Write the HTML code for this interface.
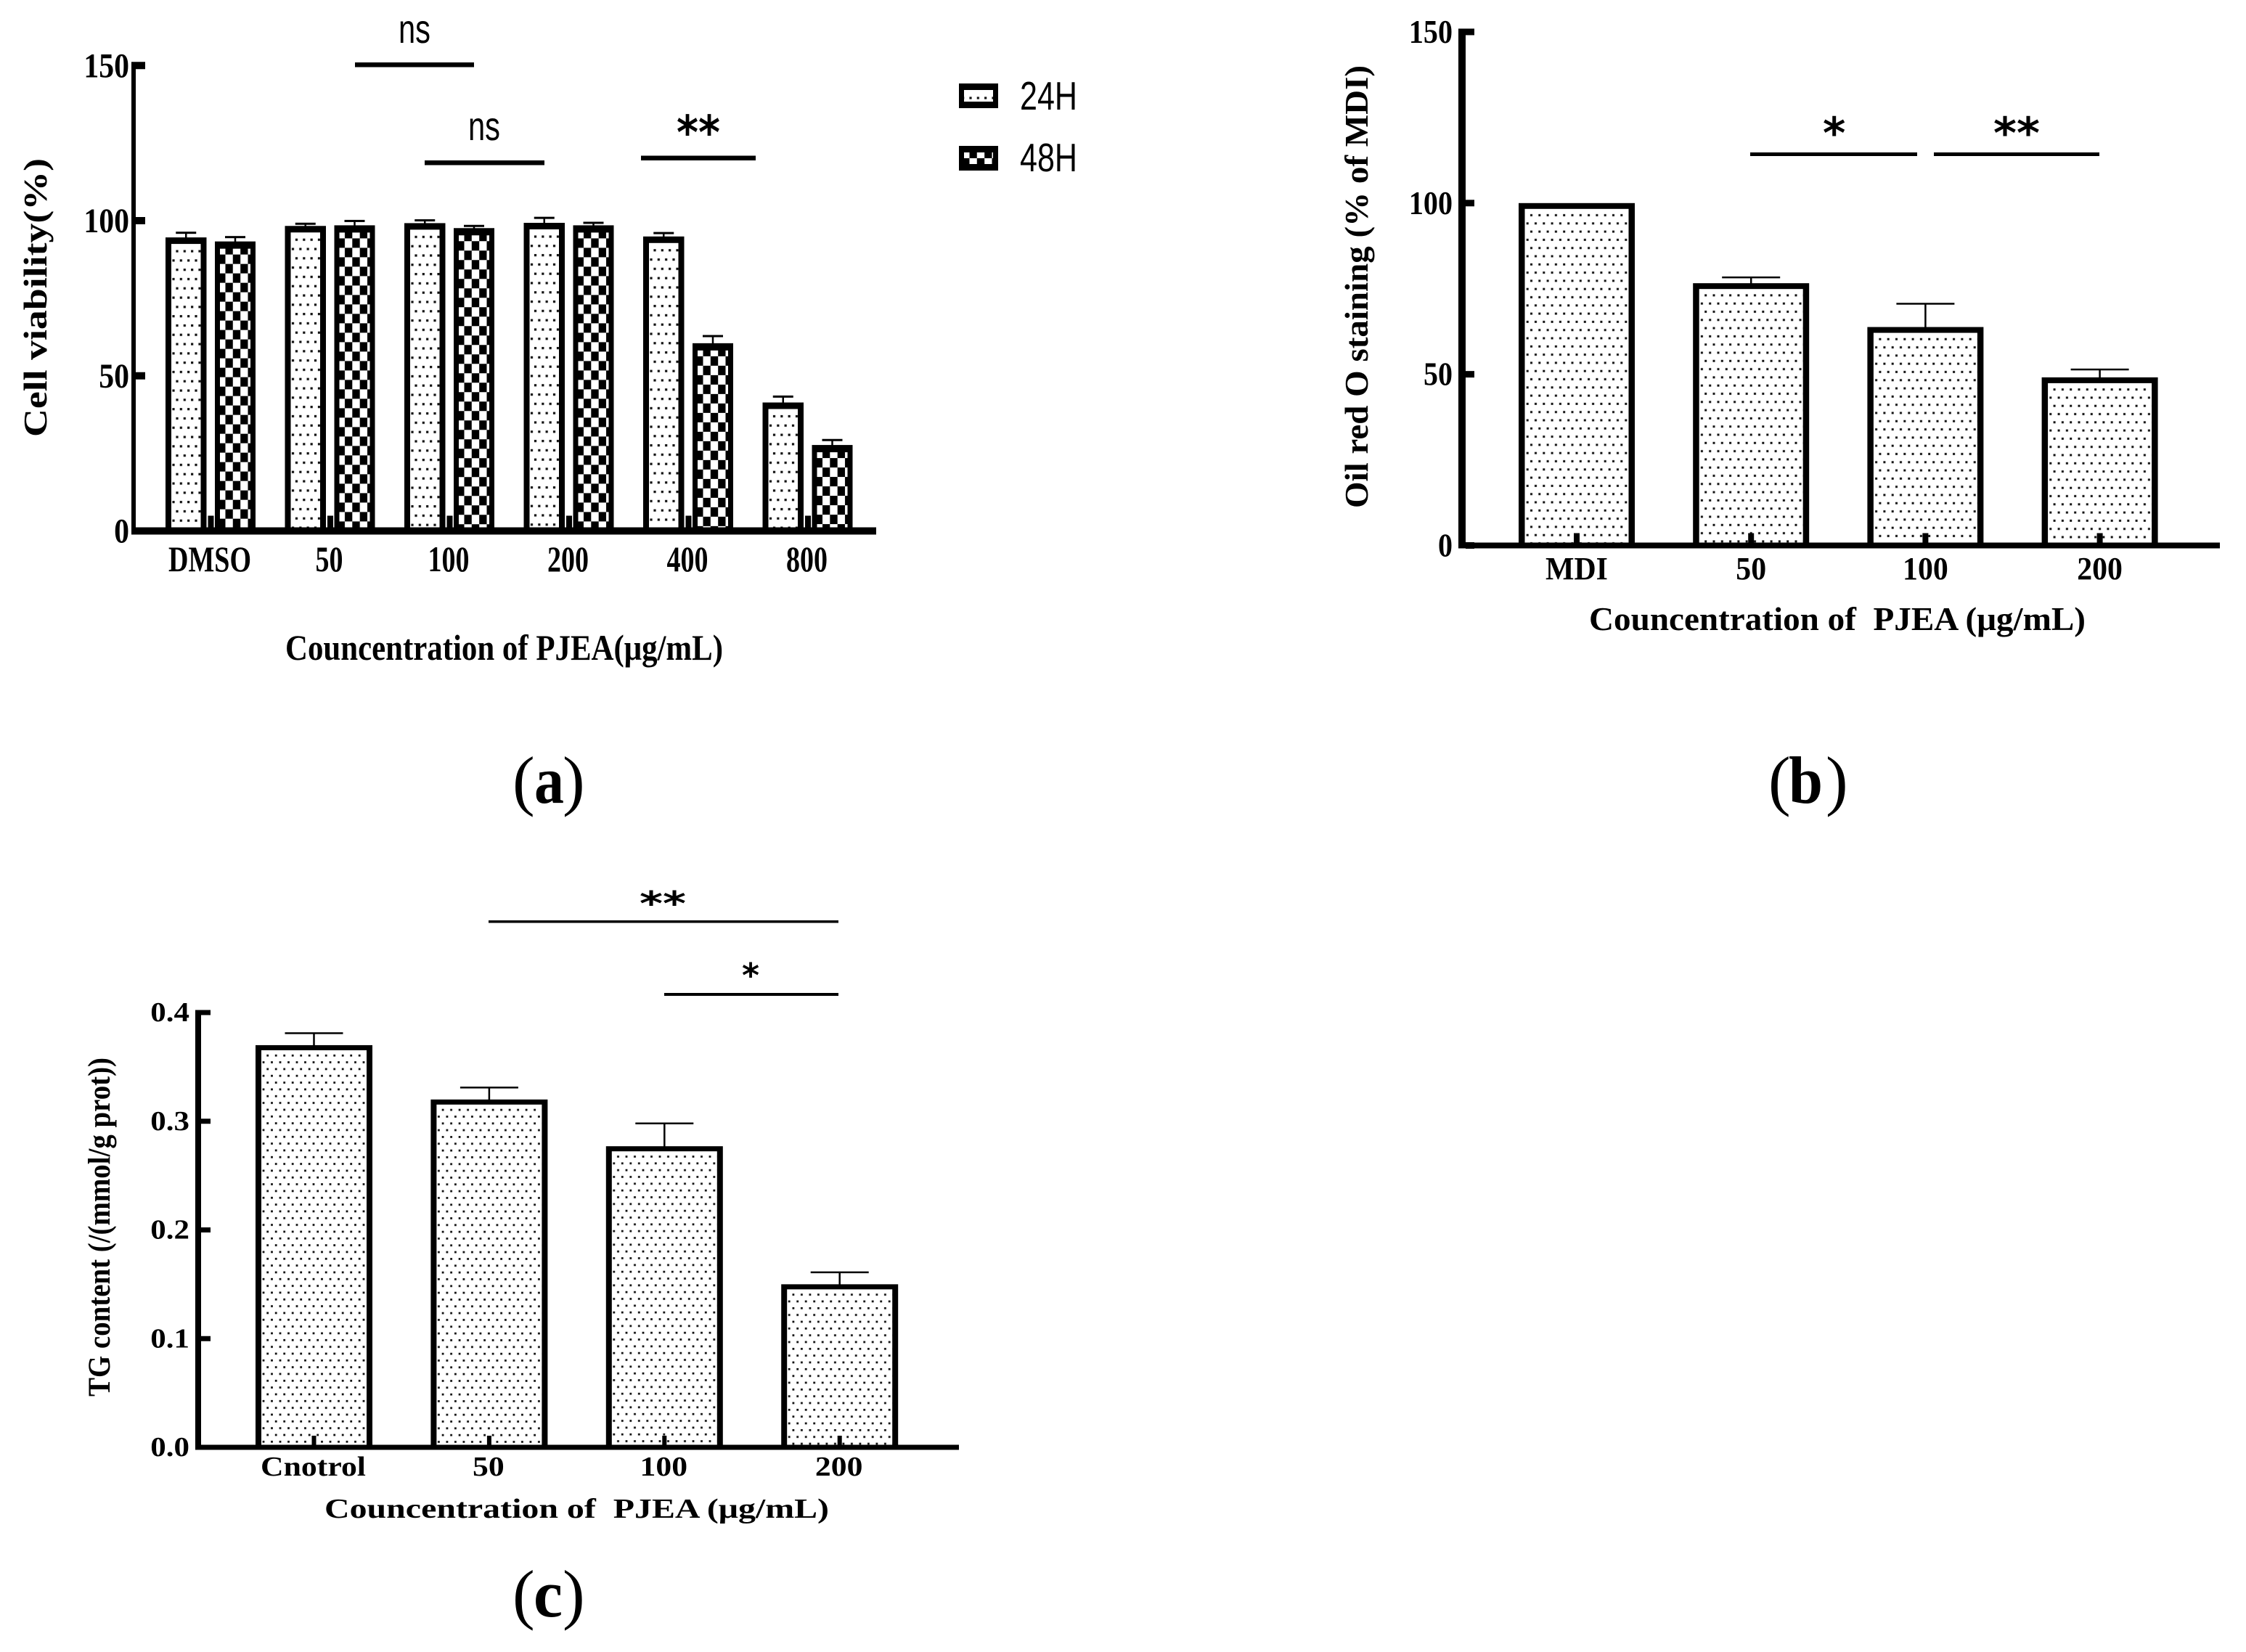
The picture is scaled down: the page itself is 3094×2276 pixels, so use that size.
<!DOCTYPE html>
<html>
<head>
<meta charset="utf-8">
<title>PJEA bar charts</title>
<style>
html,body{margin:0;padding:0;background:#fff;width:3094px;height:2276px;overflow:hidden}
svg{display:block}
text{fill:#000;font-family:"Liberation Serif",serif}
.bold{font-weight:700}
.sans{font-family:"Liberation Sans",sans-serif}
.star{font-family:"DejaVu Sans",sans-serif;font-weight:700}
</style>
</head>
<body>
<svg id="figure" xmlns="http://www.w3.org/2000/svg" width="3094" height="2276" viewBox="0 0 3094 2276">
<defs id="defs"></defs>
<rect x="0" y="0" width="3094" height="2276" fill="#fff"/>
<g id="panel-a"></g>
<g id="panel-b"></g>
<g id="panel-c"></g>

<!-- panel a annotations -->
<text class="bold" x="0" y="0" font-size="45" transform="translate(64 602) rotate(-90)" textLength="384" lengthAdjust="spacingAndGlyphs">Cell viability(%)</text>
<text class="bold" x="393" y="909" font-size="50" textLength="603" lengthAdjust="spacingAndGlyphs">Councentration of PJEA(μg/mL)</text>
<rect x="489" y="86" width="164" height="6.5" fill="#000"/>
<text class="sans" x="549" y="59" font-size="56" textLength="44" lengthAdjust="spacingAndGlyphs">ns</text>
<rect x="585" y="221" width="165" height="6.5" fill="#000"/>
<text class="sans" x="645" y="193" font-size="56" textLength="44" lengthAdjust="spacingAndGlyphs">ns</text>
<rect x="883" y="214.5" width="158" height="6.5" fill="#000"/>
<text class="star" x="932" y="205" font-size="64" textLength="60" lengthAdjust="spacingAndGlyphs">**</text>

<!-- legend -->
<g>
  <g>
    <rect x="1321" y="115" width="54" height="34" fill="#000"/>
    <rect id="swatch24" x="1328" y="124" width="40" height="16"/>
    <text class="sans" x="1405" y="151" font-size="55" textLength="79" lengthAdjust="spacingAndGlyphs">24H</text>
  </g>
  <g>
    <rect x="1321" y="201" width="54" height="34" fill="#000"/>
    <rect id="swatch48" x="1328" y="210" width="40" height="16"/>
    <text class="sans" x="1405" y="236" font-size="55" textLength="79" lengthAdjust="spacingAndGlyphs">48H</text>
  </g>
</g>

<!-- panel b annotations -->
<text class="bold" x="0" y="0" font-size="46" transform="translate(1884 700) rotate(-90)" textLength="610" lengthAdjust="spacingAndGlyphs">Oil red O staining (% of MDI)</text>
<text class="bold" x="2189" y="868" font-size="46" textLength="684" lengthAdjust="spacingAndGlyphs" xml:space="preserve">Councentration of  PJEA (μg/mL)</text>
<rect x="2411" y="210" width="230" height="5" fill="#000"/>
<text class="star" x="2511" y="204" font-size="60">*</text>
<rect x="2664" y="210" width="228" height="5" fill="#000"/>
<text class="star" x="2746" y="204" font-size="60" textLength="64" lengthAdjust="spacingAndGlyphs">**</text>

<!-- panel c annotations -->
<text class="bold" x="0" y="0" font-size="43" transform="translate(151 1924) rotate(-90)" textLength="467" lengthAdjust="spacingAndGlyphs">TG content (/(mmol/g prot))</text>
<text class="bold" x="447" y="2091" font-size="38" textLength="695" lengthAdjust="spacingAndGlyphs" xml:space="preserve">Councentration of  PJEA (μg/mL)</text>
<rect x="673" y="1268" width="482" height="3.5" fill="#000"/>
<text class="star" x="881" y="1261" font-size="46" textLength="64" lengthAdjust="spacingAndGlyphs">**</text>
<rect x="915" y="1368" width="240" height="4" fill="#000"/>
<text class="star" x="1022" y="1360" font-size="46">*</text>

<!-- panel letters -->
<g>
  <text x="706" y="1106" font-size="92">(</text>
  <text class="bold" x="736" y="1106" font-size="92" textLength="41" lengthAdjust="spacingAndGlyphs">a</text>
  <text x="775" y="1106" font-size="92">)</text>
</g>
<g>
  <text x="2436" y="1106" font-size="92">(</text>
  <text class="bold" x="2464" y="1106" font-size="92" textLength="47" lengthAdjust="spacingAndGlyphs">b</text>
  <text x="2515" y="1106" font-size="92">)</text>
</g>
<g>
  <text x="706" y="2227" font-size="92">(</text>
  <text class="bold" x="735" y="2227" font-size="92" textLength="40" lengthAdjust="spacingAndGlyphs">c</text>
  <text x="775" y="2227" font-size="92">)</text>
</g>
</svg>

<script>
// ---- panel a data ----
var aCategories = ['DMSO', '50', '100', '200', '400', '800'];
var a24Values = [94.6, 98.3, 99.2, 99.3, 94.9, 41.4];
var a24Tops = [96.1, 99, 100.1, 100.9, 96, 43.3];
var a48Values = [93.3, 98.5, 97.6, 98.5, 60.5, 27.7];
var a48Tops = [94.7, 99.9, 98.3, 99.3, 62.8, 29.3];
var aTickValues = [0, 50, 100, 150];
var aTickLabels = ['0', '50', '100', '150'];

// ---- panel b data ----
var bCategories = ['MDI', '50', '100', '200'];
var bValues = [100, 76.6, 63.8, 49.1];
var bTops = [100, 78.3, 70.6, 51.4];
var bTickValues = [0, 50, 100, 150];
var bTickLabels = ['0', '50', '100', '150'];

// ---- panel c data ----
var cCategories = ['Cnotrol', '50', '100', '200'];
var cValues = [0.37, 0.32, 0.277, 0.15];
var cTops = [0.381, 0.331, 0.298, 0.161];
var cTickValues = [0, 0.1, 0.2, 0.3, 0.4];
var cTickLabels = ['0.0', '0.1', '0.2', '0.3', '0.4'];

var NS = 'http://www.w3.org/2000/svg';
var defs = document.getElementById('defs');
var patternCount = 0;

function shape(parent, tag, attrs) {
  var el = document.createElementNS(NS, tag);
  for (var k in attrs) el.setAttribute(k, attrs[k]);
  parent.appendChild(el);
  return el;
}

function dotPattern(x0, y0, px, py, ax, ay, bx, by, size) {
  var id = 'pat' + (patternCount++);
  var p = shape(defs, 'pattern', {id: id, patternUnits: 'userSpaceOnUse', x: x0, y: y0, width: px, height: py});
  shape(p, 'rect', {x: 0, y: 0, width: px, height: py, fill: '#fff'});
  shape(p, 'rect', {x: ax - size / 2, y: ay - size / 2, width: size, height: size, fill: '#111'});
  shape(p, 'rect', {x: bx - size / 2, y: by - size / 2, width: size, height: size, fill: '#111'});
  return 'url(#' + id + ')';
}

function checkPattern(x0, y0) {
  var id = 'pat' + (patternCount++);
  var p = shape(defs, 'pattern', {id: id, patternUnits: 'userSpaceOnUse', x: x0, y: y0, width: 20.7, height: 26});
  shape(p, 'rect', {x: 0, y: 0, width: 20.7, height: 26, fill: '#000'});
  shape(p, 'rect', {x: 0, y: 0, width: 7.5, height: 8, fill: '#fff'});
  shape(p, 'rect', {x: 17.8, y: 0, width: 2.9, height: 8, fill: '#fff'});
  shape(p, 'rect', {x: 7.5, y: 8, width: 10.3, height: 13, fill: '#fff'});
  shape(p, 'rect', {x: 0, y: 21, width: 7.5, height: 5, fill: '#fff'});
  shape(p, 'rect', {x: 17.8, y: 21, width: 2.9, height: 5, fill: '#fff'});
  return 'url(#' + id + ')';
}

function dotsA(x, y) { return dotPattern(x, y, 10.33, 25.6, 8, 10, 3, 22.8, 3.2); }
function dotsB(x, y) { return dotPattern(x, y, 11.3, 22.6, 9, 8.7, 3.7, 20, 3); }
function dotsC(x, y) { return dotPattern(x, y, 11.5, 18.67, 8.7, 7.3, 3, 16.6, 2.8); }

function label(parent, x, y, str, size, anchor, cond, name) {
  var el = shape(parent, 'text', {x: x, y: y, 'font-size': size, 'text-anchor': anchor, 'class': 'bold'});
  el.textContent = str;
  
  
  el.setAttribute('textLength', (el.getComputedTextLength() * cond).toFixed(1));
  el.setAttribute('lengthAdjust', 'spacingAndGlyphs');
  return el;
}

function drawBar(parent, left, width, topY, bottomY, sx, sy, fill, errTopY, capW, capT, stemW, name) {
  if (errTopY !== null && errTopY < topY) {
    var cx = left + width / 2;
    var stem = shape(parent, 'rect', {x: cx - stemW / 2, y: errTopY, width: stemW, height: topY - errTopY + 1, fill: '#000'});
    
    
    var cap = shape(parent, 'rect', {x: cx - capW / 2, y: errTopY - capT / 2, width: capW, height: capT, fill: '#000'});
    
    
  }
  var outer = shape(parent, 'rect', {x: left, y: topY, width: width, height: bottomY - topY, fill: '#000'});
  
  
  var inner = shape(parent, 'rect', {x: left + sx, y: topY + sy, width: width - 2 * sx, height: Math.max(0, bottomY - topY - sy), fill: fill(left + sx, topY + sy)});
  
  
}

function drawAxes(parent, o) {
  var yAxis = shape(parent, 'rect', {x: o.axisX, y: o.y(o.tickValues[o.tickValues.length - 1]) - o.tickT / 2, width: o.axisW, height: o.y(0) - o.y(o.tickValues[o.tickValues.length - 1]) + o.tickT / 2 + o.baseT / 2, fill: '#000'});
  
  
  var xAxis = shape(parent, 'rect', {x: o.axisX, y: o.y(0) - o.baseT / 2, width: o.axisEnd - o.axisX, height: o.baseT, fill: '#000'});
  
  
  o.tickValues.forEach(function (v, i) {
    var t = shape(parent, 'rect', {x: o.axisX + o.axisW, y: o.y(v) - o.tickT / 2, width: o.tickLen, height: o.tickT, fill: '#000'});
    
    
    label(parent, o.yLabelX, o.y(v) + o.yLabelDy, o.tickLabels[i], o.yFont, 'end', o.yCond, o.prefix + '-y-tick-label');
  });
  o.categories.forEach(function (c, i) {
    var cx = o.x(i);
    var t = shape(parent, 'rect', {x: cx - o.catTickW / 2, y: o.y(0) - o.catTickH, width: o.catTickW, height: o.catTickH, fill: '#000'});
    
    
    label(parent, cx + (o.catDx || 0), o.catLabelY, c, o.catFont, 'middle', o.catCond, o.prefix + '-x-tick-label');
  });
}

// ---- panel a ----
function yA(v) { return 731.5 - v * 4.275; }
function xA(i) { return 290.5 + i * 164.5; }
(function () {
  var g = document.getElementById('panel-a');
  aCategories.forEach(function (c, i) {
    drawBar(g, xA(i) - 62.5, 56.5, yA(a24Values[i]), 732, 8, 9, dotsA, yA(a24Tops[i]), 28, 3, 2.5, 'bar-24h-' + c);
    drawBar(g, xA(i) + 5.5, 56, yA(a48Values[i]), 732, 7, 10, checkPattern, yA(a48Tops[i]), 28, 3, 2.5, 'bar-48h-' + c);
  });
  drawAxes(g, {prefix: 'panel-a', y: yA, x: xA, axisX: 181, axisW: 6, axisEnd: 1207, baseT: 10, tickT: 10, tickLen: 13,
    tickValues: aTickValues, tickLabels: aTickLabels, yLabelX: 178, yLabelDy: 16, yFont: 48, yCond: 0.87,
    categories: aCategories, catTickW: 8, catTickH: 21, catLabelY: 787, catFont: 50, catCond: 0.76, catDx: -1.5});
  document.getElementById('swatch24').setAttribute('fill', dotsA(1329, 125));
  document.getElementById('swatch48').setAttribute('fill', checkPattern(1328, 210));
})();

// ---- panel b ----
function yB(v) { return 751.5 - v * 4.717; }
function xB(i) { return 2172 + i * 240.2; }
(function () {
  var g = document.getElementById('panel-b');
  bCategories.forEach(function (c, i) {
    drawBar(g, xB(i) - 80, 160, yB(bValues[i]), 751.5, 8.5, 8, dotsB, yB(bTops[i]), 80, 2.5, 2.5, 'bar-' + c);
  });
  drawAxes(g, {prefix: 'panel-b', y: yB, x: xB, axisX: 2009, axisW: 10, axisEnd: 3058, baseT: 8, tickT: 9, tickLen: 12,
    tickValues: bTickValues, tickLabels: bTickLabels, yLabelX: 2001, yLabelDy: 15, yFont: 45, yCond: 0.89,
    categories: bCategories, catTickW: 8, catTickH: 17, catLabelY: 798, catFont: 44, catCond: 0.95});
})();

// ---- panel c ----
function yC(v) { return 1994 - v * 1497.5; }
function xC(i) { return 432.5 + i * 241.4; }
(function () {
  var g = document.getElementById('panel-c');
  cCategories.forEach(function (c, i) {
    drawBar(g, xC(i) - 80.5, 161, yC(cValues[i]), 1994, 8, 7, dotsC, yC(cTops[i]), 80, 2.5, 2.5, 'bar-' + c);
  });
  drawAxes(g, {prefix: 'panel-c', y: yC, x: xC, axisX: 269, axisW: 8, axisEnd: 1321, baseT: 7, tickT: 7, tickLen: 13,
    tickValues: cTickValues, tickLabels: cTickLabels, yLabelX: 261, yLabelDy: 12, yFont: 38, yCond: 1.13,
    categories: cCategories, catTickW: 6, catTickH: 16, catLabelY: 2033, catFont: 38, catCond: 1.15, catDx: -1});
})();
</script>
</body>
</html>
